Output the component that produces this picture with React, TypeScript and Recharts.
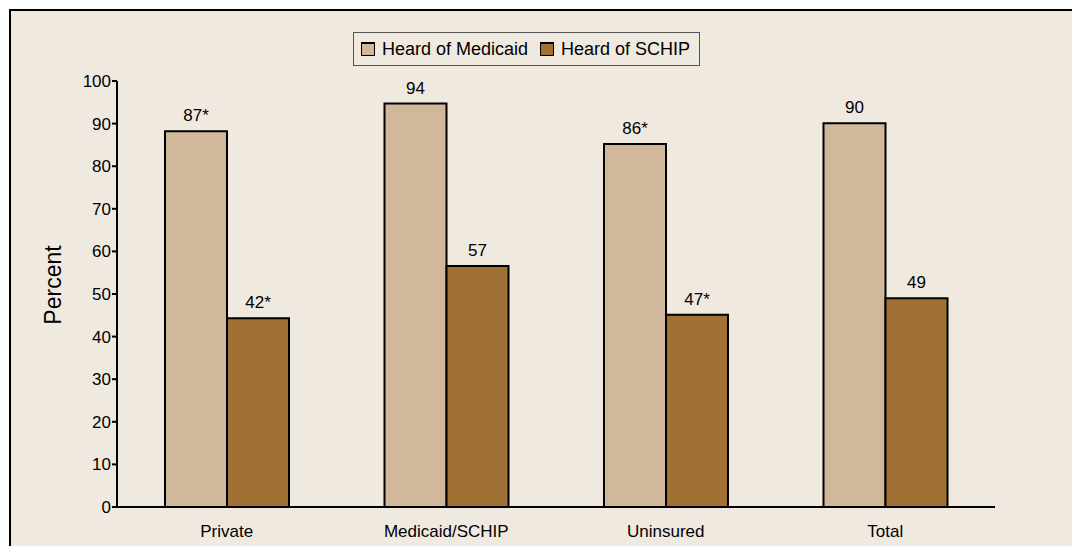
import { BarChart, Bar, XAxis, YAxis, LabelList } from 'recharts';

const categories = ['Private', 'Medicaid/SCHIP', 'Uninsured', 'Total'];
const medicaidValues = [88.2, 94.7, 85.2, 90.1];
const schipValues = [44.3, 56.6, 45.1, 49.0];
const medicaidLabels = ['87*', '94', '86*', '90'];
const schipLabels = ['42*', '57', '47*', '49'];
const yTicks = [0, 10, 20, 30, 40, 50, 60, 70, 80, 90, 100];

const data = categories.map((name, i) => ({
  name,
  medicaid: medicaidValues[i],
  schip: schipValues[i],
  medicaidLabel: medicaidLabels[i],
  schipLabel: schipLabels[i],
}));

const BG = '#F0E9E0';
const MEDICAID = '#D1B89B';
const SCHIP = '#A07035';
const FONT = '"Liberation Sans", Arial, Helvetica, sans-serif';

function LegendBox() {
  const item = (color: string, text: string) => (
    <span style={{ display: 'inline-flex', alignItems: 'center', marginRight: 12, flexShrink: 0, whiteSpace: 'nowrap' }}>
      <span
        style={{
          display: 'inline-block',
          width: 12,
          height: 11,
          background: color,
          border: '1px solid #000',
          borderTopWidth: 2,
          marginRight: 7,
        }}
      />
      <span>{text}</span>
    </span>
  );
  return (
    <div
      style={{
        position: 'absolute',
        left: 342,
        top: 21,
        boxSizing: 'border-box',
        width: 347,
        height: 34,
        border: '1px solid #555',
        display: 'flex',
        alignItems: 'center',
        paddingLeft: 7,
        fontFamily: FONT,
        fontSize: 18,
        color: '#000',
        background: BG,
        whiteSpace: 'nowrap',
        overflow: 'hidden',
      }}
    >
      {item(MEDICAID, 'Heard of Medicaid')}
      {item(SCHIP, 'Heard of SCHIP')}
    </div>
  );
}

// y-axis title, nudged a little above the plot centre like the original
const PercentLabel = (props: any) => {
  const vb = props.viewBox || {};
  const cx = (vb.x ?? 0) - 4;
  const cy = (vb.y ?? 0) + (vb.height ?? 0) / 2 - 9;
  return (
    <text
      x={cx}
      y={cy}
      transform={`rotate(-90 ${cx} ${cy})`}
      textAnchor="middle"
      dominantBaseline="central"
      fill="#000"
      fontSize={23}
      fontFamily={FONT}
    >
      Percent
    </text>
  );
};

export default function App() {
  return (
    <div
      style={{
        position: 'relative',
        marginLeft: 1,
        marginTop: 1,
        width: 1069,
        height: 535,
        borderLeft: '2px solid #000',
        borderTop: '2px solid #000',
        background: BG,
        fontFamily: FONT,
        overflow: 'hidden',
      }}
    >
      <BarChart
        width={1069}
        height={535}
        data={data}
        margin={{ top: 70, right: 85, bottom: 9, left: 46 }}
        barGap={0}
        barSize={62}
      >
        <XAxis
          dataKey="name"
          axisLine={{ stroke: '#000', strokeWidth: 2 }}
          tickLine={false}
          tickMargin={12}
          height={30}
          tick={{ fill: '#000', fontSize: 17, fontFamily: FONT }}
        />
        <YAxis
          domain={[0, 100]}
          ticks={yTicks}
          width={60}
          axisLine={{ stroke: '#000', strokeWidth: 2 }}
          tickLine={{ stroke: '#000', strokeWidth: 2 }}
          tickSize={5}
          tickMargin={1}
          tick={{ fill: '#000', fontSize: 17, fontFamily: FONT }}
          label={<PercentLabel />}
        />
        <Bar dataKey="medicaid" fill={MEDICAID} stroke="#000" strokeWidth={2} isAnimationActive={false}>
          <LabelList dataKey="medicaidLabel" position="top" offset={10} style={{ fill: '#000', fontSize: 17, fontFamily: FONT }} />
        </Bar>
        <Bar dataKey="schip" fill={SCHIP} stroke="#000" strokeWidth={2} isAnimationActive={false}>
          <LabelList dataKey="schipLabel" position="top" offset={10} style={{ fill: '#000', fontSize: 17, fontFamily: FONT }} />
        </Bar>
      </BarChart>
      <LegendBox />
    </div>
  );
}
